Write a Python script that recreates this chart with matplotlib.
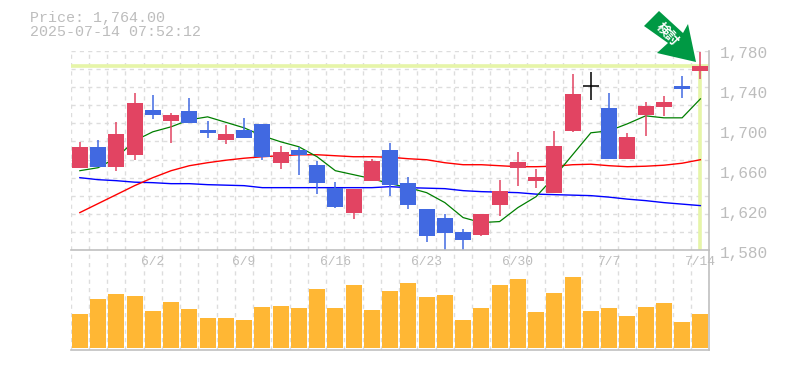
import matplotlib
matplotlib.use('Agg')
import matplotlib.pyplot as plt
from matplotlib.patches import Polygon
from matplotlib.transforms import offset_copy

plt.rcParams['font.family'] = ['Liberation Mono', 'DejaVu Sans Mono']

opens = [1662, 1683, 1663, 1675, 1720, 1709, 1719, 1700, 1690, 1700, 1706, 1667,
         1680, 1665, 1642, 1617, 1649, 1680, 1647, 1621, 1612, 1598, 1595, 1625,
         1662, 1649, 1637, 1699, 1744, 1722, 1671, 1715, 1723, 1744, 1759]
highs = [1688, 1690, 1708, 1737, 1735, 1717, 1732, 1709, 1705, 1712, 1706, 1684,
         1683, 1669, 1648, 1641, 1671, 1687, 1653, 1621, 1616, 1601, 1616, 1650,
         1678, 1661, 1699, 1756, 1758, 1737, 1697, 1728, 1734, 1754, 1778]
lows = [1662, 1663, 1659, 1670, 1711, 1687, 1707, 1692, 1686, 1692, 1670, 1661,
        1655, 1636, 1622, 1611, 1649, 1634, 1621, 1588, 1580, 1580, 1594, 1614,
        1644, 1642, 1637, 1698, 1730, 1671, 1671, 1694, 1714, 1732, 1751]
closes = [1683, 1663, 1696, 1727, 1715, 1715, 1707, 1697, 1696, 1692, 1673, 1678,
          1675, 1647, 1623, 1641, 1669, 1645, 1625, 1594, 1597, 1590, 1616, 1639,
          1668, 1653, 1684, 1736, 1744, 1671, 1693, 1724, 1728, 1741, 1764]

ma_short = [1659.5, 1662.5, 1672.5, 1689.5, 1698.5, 1703.5, 1710.5, 1713.5, 1708, 1702.5, 1694.5, 1688.5,
            1683.5, 1673.5, 1659.5, 1655.5, 1651.5, 1646.5, 1642.5, 1637.5, 1627.5, 1612.5, 1607.5, 1608.5,
            1622.5, 1633.5, 1653.5, 1675.5, 1697.5, 1699.5, 1706.5, 1714.5, 1712.5, 1712.5, 1731.5]
ma_mid = [1617.5, 1626.5, 1635.5, 1644.5, 1652.5, 1659.5, 1664.5, 1667.5, 1670, 1672, 1673.5, 1674.5,
          1675.5, 1675.5, 1674.5, 1673.5, 1673.5, 1673, 1671.5, 1670.5, 1667.5, 1665.5, 1665.5, 1664.5,
          1663.5, 1663.5, 1664, 1665.5, 1666, 1664.5, 1663.5, 1664, 1665, 1667, 1670.5]
ma_long = [1652.5, 1650.5, 1649.5, 1648, 1647.5, 1646.5, 1646.5, 1645.5, 1645, 1644.5, 1642.5, 1642.5,
           1642.5, 1642.5, 1642.5, 1642.5, 1642.5, 1643.5, 1642.5, 1642, 1641.5, 1639.5, 1638.5, 1638,
           1637.5, 1636, 1635.5, 1635, 1634.5, 1633, 1631, 1629.5, 1627.5, 1626, 1624.5]

volumes = [34, 49, 54, 52, 37, 46, 39, 30, 30, 28, 41, 42, 40, 59, 40, 63, 38, 57,
           65, 51, 53, 28, 40, 63, 69, 36, 55, 71, 37, 40, 32, 41, 45, 26, 34]

date_labels = ['6/2', '6/9', '6/16', '6/23', '6/30', '7/7', '7/14']
date_index = [4, 9, 14, 19, 24, 29, 34]
price_ticks = [1780, 1740, 1700, 1660, 1620, 1580]
current_price = 1764

UP = '#e24462'
DOWN = '#4169e1'
GRID = '#dddddd'
FRAME = '#c0c0c0'
TEXT = '#bdbdbd'
MARK = '#e6f5a8'
W, H = 785, 370

fig = plt.figure(figsize=(W / 100, H / 100), dpi=100)


def px_axes(left, top, right, bottom):
    return fig.add_axes([left / W, 1 - bottom / H, (right - left) / W, (bottom - top) / H])


ax = px_axes(70.7, 51, 709.5, 250)
vol = px_axes(70.7, 250, 709.5, 350)
ax.set_zorder(3)
ax.patch.set_visible(False)

n = len(opens)
for a in (ax, vol):
    a.set_xlim(-0.5, n - 0.5)
    a.set_xticks([i - 0.5 for i in range(n + 1)])
    a.tick_params(length=0, labelbottom=False, labelleft=False)
    a.grid(axis='x', color=GRID, lw=1.0, ls=(0, (3, 3)))
    a.set_axisbelow(True)
    for s in a.spines.values():
        s.set_visible(False)

ax.set_ylim(1580, 1779.5)
ax.set_yticks([1580 + 199.5 * k / 11 for k in range(12)])
ax.grid(axis='y', color=GRID, lw=1.0, ls=(0, (3, 3)))

# highlight lines for the latest price
ax.axhline(current_price, color=MARK, lw=2.6, zorder=1.5)
ax.plot([n - 1, n - 1], [1580, current_price], color=MARK, lw=2.6, zorder=1.5, solid_capstyle='butt')

xs = list(range(n))
ax.plot(xs, ma_long, color='#0000ff', lw=1.0, zorder=2)
ax.plot(xs, ma_mid, color='#ff0000', lw=1.0, zorder=2)
ax.plot(xs, ma_short, color='#007f00', lw=0.9, zorder=2)

for i in xs:
    o, h, l, c = opens[i], highs[i], lows[i], closes[i]
    if c > o:
        col = UP
    elif c < o:
        col = DOWN
    else:
        col = 'black'
    ax.plot([i, i], [l, h], color=col, lw=1.1, zorder=3, solid_capstyle='butt')
    if c == o:
        ax.plot([i - 0.44, i + 0.44], [c, c], color=col, lw=1.1, zorder=3, solid_capstyle='butt')
    else:
        ax.bar(i, abs(c - o), bottom=min(o, c), width=0.88, color=col, lw=0, zorder=3)

vol.set_ylim(-2, 98)
vol.bar(xs, volumes, width=0.88, color='#ffb734', lw=0, zorder=3)

# frame: baseline of both panels and right edge
for a in (ax, vol):
    a.plot([0, 1], [0, 0], transform=a.transAxes, color=FRAME, lw=1.2, clip_on=False, zorder=4)
    a.plot([1, 1], [0, 1], transform=a.transAxes, color=FRAME, lw=1.2, clip_on=False, zorder=4)

label_tr = offset_copy(ax.get_yaxis_transform(), fig=fig, x=10, y=-3, units='dots')
for p in price_ticks:
    ax.text(1, p, f'{p:,}', transform=label_tr, color=TEXT, fontsize=11.6, ha='left', va='center', clip_on=False)

date_tr = offset_copy(ax.get_xaxis_transform(), fig=fig, x=0, y=-12, units='dots')
for i, s in zip(date_index, date_labels):
    ax.text(i, 0, s, transform=date_tr, color=TEXT, fontsize=9.4, ha='center', va='center', clip_on=False, zorder=5)

fig.text(30 / W, 1 - 18 / H, f'Price: {current_price:,.2f}', color=TEXT, fontsize=10.8, va='center')
fig.text(30 / W, 1 - 32.5 / H, '2025-07-14 07:52:12', color=TEXT, fontsize=10.8, va='center')

# green "signal" arrow pointing at the last candle
arrow_px = [(659, 11), (683, 33), (688, 24), (696, 62), (657, 53), (668, 43), (644, 26)]
fig.add_artist(Polygon([(x / W, 1 - y / H) for x, y in arrow_px], closed=True,
                       transform=fig.transFigure, color='#009944', lw=0, zorder=6))
fig.text(667 / W, 1 - 34 / H, '検討', color='white', fontsize=9.5, rotation=-47,
         rotation_mode='anchor', ha='center', va='center', family=['Noto Sans CJK JP', 'DejaVu Sans'],
         fontweight='bold', zorder=7)

fig.savefig('out.png', dpi=100)
